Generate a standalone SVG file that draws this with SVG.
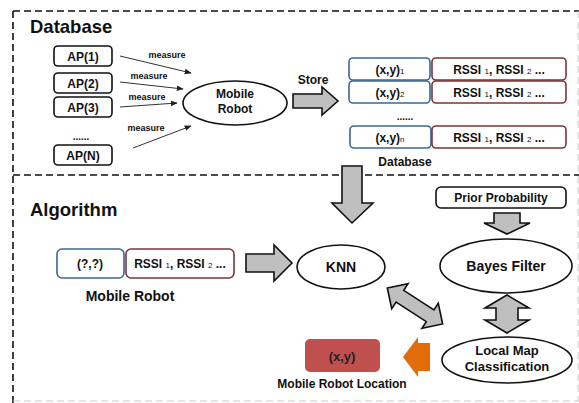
<svg xmlns="http://www.w3.org/2000/svg" width="579" height="403" viewBox="0 0 579 403">
<defs>
<marker id="ah" viewBox="0 0 10 10" refX="9" refY="5" markerWidth="7" markerHeight="7" orient="auto" markerUnits="userSpaceOnUse">
<path d="M0,1 L10,5 L0,9 z" fill="#222"/>
</marker>
<style>
text{font-family:"Liberation Sans",Arial,sans-serif;font-weight:bold;fill:#111;text-anchor:middle}
.dash{stroke:#111;stroke-width:1.6;stroke-dasharray:7 4;fill:none}
.faint{stroke:#ccc;stroke-width:1;stroke-dasharray:7 4;fill:none}
.ap{fill:#fff;stroke:#111;stroke-width:1.6}
.blue{fill:#fff;stroke:#3A6794;stroke-width:1.6}
.red{fill:#fff;stroke:#7B3535;stroke-width:1.6}
.ell{fill:#fff;stroke:#111;stroke-width:1.6}
.blk{fill:#BFBFBF;stroke:#111;stroke-width:1.6;stroke-linejoin:miter}
.thin{stroke:#333;stroke-width:1;fill:none;marker-end:url(#ah)}
.t12{font-size:12px}
.sub{font-size:8px;font-weight:normal}
</style>
</defs>
<rect width="579" height="403" fill="#fff"/>
<g id="frame">
<line class="dash" x1="13" y1="11" x2="579" y2="11"/>
<line class="dash" x1="13" y1="11" x2="13" y2="403"/>
<line class="dash" x1="13" y1="175" x2="579" y2="175"/>
<line class="faint" x1="13" y1="401" x2="579" y2="401"/>
<line class="faint" x1="578" y1="11" x2="578" y2="401"/>
<text x="30" y="33" style="font-size:18.5px;text-anchor:start">Database</text>
<text x="30" y="216" style="font-size:18.5px;text-anchor:start">Algorithm</text>
</g>
<g id="ap1"><rect class="ap" x="54" y="46" width="58" height="20" rx="4"/><text class="t12" x="83" y="61">AP(1)</text></g>
<g id="ap2"><rect class="ap" x="54" y="73" width="58" height="20" rx="4"/><text class="t12" x="83" y="88">AP(2)</text></g>
<g id="ap3"><rect class="ap" x="54" y="97" width="58" height="20" rx="4"/><text class="t12" x="83" y="112">AP(3)</text></g>
<g id="apdots"><text x="81" y="140" style="font-size:10px">......</text></g>
<g id="apn"><rect class="ap" x="54" y="145" width="58" height="20" rx="4"/><text class="t12" x="83" y="160">AP(N)</text></g>
<g id="robot"><ellipse class="ell" cx="235" cy="103" rx="52" ry="22"/><text class="t12" x="235" y="98">Mobile</text><text class="t12" x="235" y="113">Robot</text></g>
<g id="row1"><rect class="blue" x="349" y="58" width="81" height="22" rx="4"/><text class="t12" x="390" y="74">(x,y)<tspan class="sub">1</tspan></text><rect class="red" x="432" y="58" width="134" height="22" rx="4"/><text class="t12" x="499" y="74">RSSI <tspan class="sub">1</tspan>, RSSI <tspan class="sub">2</tspan> ...</text></g>
<g id="row2"><rect class="blue" x="349" y="81" width="81" height="22" rx="4"/><text class="t12" x="390" y="97">(x,y)<tspan class="sub">2</tspan></text><rect class="red" x="432" y="81" width="134" height="22" rx="4"/><text class="t12" x="499" y="97">RSSI <tspan class="sub">1</tspan>, RSSI <tspan class="sub">2</tspan> ...</text></g>
<g id="rowdots"><text x="405" y="120" style="font-size:10px">......</text></g>
<g id="rown"><rect class="blue" x="350" y="126" width="81" height="22" rx="4"/><text class="t12" x="390" y="142">(x,y)<tspan class="sub">n</tspan></text><rect class="red" x="432" y="126" width="134" height="22" rx="4"/><text class="t12" x="499" y="142">RSSI <tspan class="sub">1</tspan>, RSSI <tspan class="sub">2</tspan> ...</text></g>
<g id="dblabel"><text class="t12" x="405" y="166">Database</text></g>
<g id="query"><rect class="blue" x="57" y="249" width="67" height="29" rx="5"/><text class="t12" x="90" y="268">(?,?)</text><rect class="red" x="126" y="249" width="108" height="29" rx="5"/><text class="t12" x="180" y="268">RSSI <tspan class="sub">1</tspan>, RSSI <tspan class="sub">2</tspan> ...</text><text x="130" y="301" style="font-size:14px">Mobile Robot</text></g>
<g id="knn"><ellipse class="ell" cx="341" cy="267" rx="44" ry="22"/><text x="341" y="272" style="font-size:14px">KNN</text></g>
<g id="prior"><rect class="ap" x="436" y="187" width="130" height="21" rx="5"/><text class="t12" x="501" y="202">Prior Probability</text></g>
<g id="bayes"><ellipse class="ell" cx="506" cy="266" rx="66" ry="27"/><text x="506" y="271" style="font-size:14px">Bayes Filter</text></g>
<g id="localmap"><ellipse class="ell" cx="507" cy="360" rx="65" ry="23"/><text x="507" y="355" style="font-size:13px">Local Map</text><text x="507" y="371" style="font-size:13px">Classification</text></g>
<g id="result"><rect x="305" y="339" width="75" height="33" rx="5" fill="#C0504D"/><text x="342" y="361" style="font-size:13px;fill:#222">(x,y)</text><text class="t12" x="342" y="388">Mobile Robot Location</text></g>
<g id="connectors">
<line class="thin" x1="120" y1="56" x2="191" y2="73"/>
<text x="167" y="58" style="font-size:9px">measure</text>
<line class="thin" x1="120" y1="82" x2="183" y2="89"/>
<text x="149" y="79" style="font-size:9px">measure</text>
<line class="thin" x1="120" y1="107" x2="177" y2="103"/>
<text x="147" y="100" style="font-size:9px">measure</text>
<line class="thin" x1="133" y1="148" x2="191" y2="126"/>
<text x="146" y="131" style="font-size:9px">measure</text>
<text class="t12" x="313" y="84">Store</text>
<polygon class="blk" points="293,94 322,94 322,87 338,101 322,115 322,108 293,108"/>
<polygon class="blk" points="342,166 362,166 362,203 373,203 352,223 332,203 342,203"/>
<polygon class="blk" points="246,254 274,254 274,245 292,263 274,281 274,272 246,272"/>
<polygon class="blk" points="494,213 520,213 520,223 530,223 507,234 484,223 494,223"/>
<polygon class="blk" points="507,295 529,308 518,308 518,320 529,320 507,333 485,320 496,320 496,308 485,308"/>
<polygon class="blk" transform="translate(415,306) rotate(33)" points="-33,0 -18,-15 -18,-7 18,-7 18,-15 33,0 18,15 18,7 -18,7 -18,15"/>
<polygon points="403,357 418,337 418,343 430,343 430,371 418,371 418,377" fill="#E36C0A"/>
</g>
</svg>
